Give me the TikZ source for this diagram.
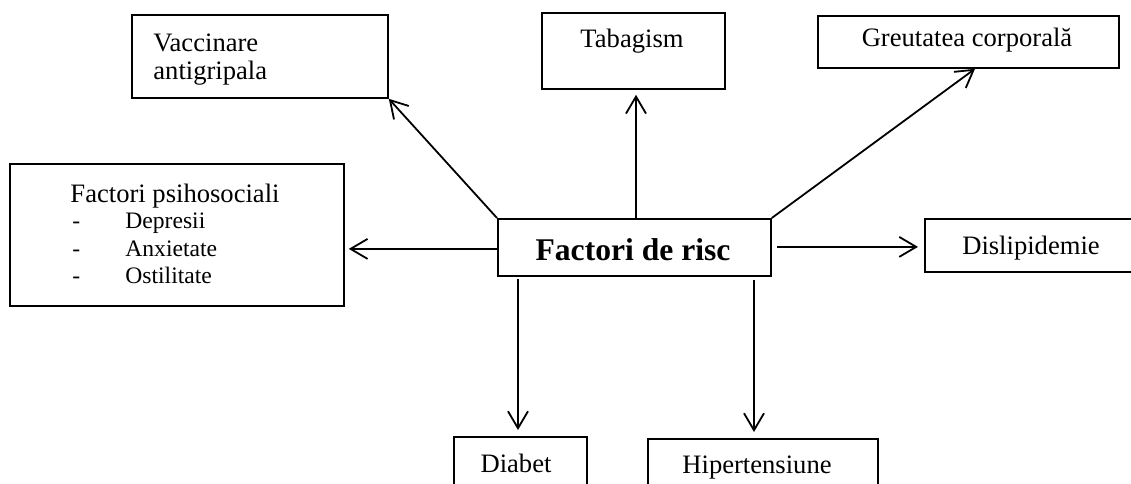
\documentclass[tikz,border=0pt]{standalone}
\usepackage{fontspec}
\setmainfont{Liberation Serif}
\usetikzlibrary{arrows.meta,calc}
\begin{document}
\begin{tikzpicture}[x=0.5pt,y=-0.5pt,
  box/.style={draw,line width=0.9pt,inner sep=0pt,anchor=north west},
  lbl/.style={inner sep=0pt,anchor=base,font=\fontsize{13.3}{16}\selectfont},
  itm/.style={inner sep=0pt,anchor=base west,font=\fontsize{11.8}{14}\selectfont},
  arr/.style={line width=0.9pt,-{Straight Barb[length=8.5pt,width=10pt,line width=0.9pt]}}]
\useasboundingbox (0,0) rectangle (1131,483);
\clip (0,0) rectangle (1131,483);
% boxes
\node[box,minimum width=128pt,minimum height=41.5pt] (vac) at (131,14) {};
\node[box,minimum width=167pt,minimum height=71pt] (psy) at (9,163) {};
\node[box,minimum width=91.5pt,minimum height=38pt] (tab) at (541,12) {};
\node[box,minimum width=150.5pt,minimum height=26pt] (grt) at (817,15) {};
\node[box,minimum width=136.5pt,minimum height=28.5pt] (cen) at (497,218) {};
\node[box,minimum width=115pt,minimum height=26.5pt] (dis) at (924,218) {};
\node[box,minimum width=66.5pt,minimum height=40pt] (dia) at (453,436) {};
\node[box,minimum width=115pt,minimum height=40pt] (hip) at (647,438) {};
% texts
\node[lbl,anchor=base west] (vac1) at (153,51) {Vaccinare};
\node[lbl,anchor=base west] (vac2) at (153,79) {antigripala};
\node[lbl] (psyt) at (175,202) {Factori psihosociali};
\node[itm] (d1) at (72,228) {-};
\node[itm] (d2) at (72,256) {-};
\node[itm] (d3) at (72,283) {-};
\node[itm] (i1) at (125,228) {Depresii};
\node[itm] (i2) at (125,256) {Anxietate};
\node[itm] (i3) at (125,283) {Ostilitate};
\node[lbl] (tabt) at (632,47) {Tabagism};
\node[lbl] (grtt) at (967,46) {Greutatea corporală};
\node[lbl,font=\fontsize{15.8}{19}\bfseries] (cent) at (633,260) {Factori de risc};
\node[lbl] (dist) at (1031,254) {Dislipidemie};
\node[lbl] (diat) at (516,472) {Diabet};
\node[lbl] (hipt) at (757,473) {Hipertensiune};
% connector ends
\coordinate (cT) at ($(cen.north west)+(139,0)$);
\coordinate (cG) at ($(grt.south west)+(158,0)$);
\coordinate (cL) at ($(cen.west)+(0,1.5)$);
\coordinate (cR) at ($(cen.east)+(0,-0.5)$);
\coordinate (cD) at ($(cen.south west)+(21,0)$);
\coordinate (cH) at ($(cen.south west)+(257,0)$);
% connectors
\draw[arr] (cen.north west) -- (vac.south east);
\draw[arr,shorten >=2.5pt] (cT) -- (cT |- tab.south);
\draw[arr] (cen.north east) -- (cG);
\draw[arr,shorten <=2.5pt,shorten >=3pt] (cR) -- (cR -| dis.west);
\draw[arr,shorten >=2pt] (cL) -- (cL -| psy.east);
\draw[arr,shorten <=1pt,shorten >=3pt] (cD) -- (cD |- dia.north);
\draw[arr,shorten <=1.5pt,shorten >=3pt] (cH) -- (cH |- hip.north);
\end{tikzpicture}
\end{document}
